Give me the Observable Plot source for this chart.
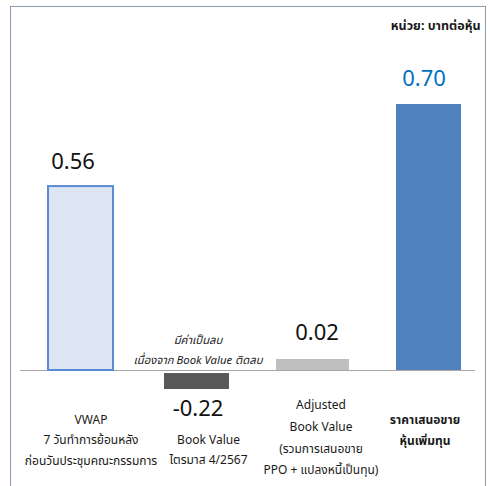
<!DOCTYPE html>
<html>
<head>
<meta charset="utf-8">
<script src="https://cdn.jsdelivr.net/npm/d3@7"></script>
<script src="https://cdn.jsdelivr.net/npm/@observablehq/plot@0.6"></script>
<style>
  html, body { margin: 0; padding: 0; background: #fff; overflow: hidden; }
  #wrap { position: relative; width: 490px; height: 486px; }
  #frame { position: absolute; left: 10px; top: 6px; width: 476px; height: 500px;
           border: 1.5px solid #8d9bb0; box-sizing: border-box; }
  #chart { position: absolute; left: 0; top: 0; }
</style>
</head>
<body>
<div id="wrap"><div id="frame"></div><div id="chart"></div></div>
<script>
// Data
const categories = ["vwap", "book", "adjusted", "offer"];
const values = [0.56, -0.22, 0.02, 0.70];            // printed values (บาทต่อหุ้น)
const drawnHeights = [0.484, -0.05, 0.029, 0.70];    // bar heights as drawn in source (not to scale)
const valueLabels = ["0.56", "-0.22", "0.02", "0.70"];
const categoryLabels = [
  "VWAP\n7 วันทำการย้อนหลัง\nก่อนวันประชุมคณะกรรมการ",
  "Book Value\nไตรมาส 4/2567",
  "Adjusted\nBook Value\n(รวมการเสนอขาย\nPPO + แปลงหนี้เป็นทุน)",
  "ราคาเสนอขาย\nหุ้นเพิ่มทุน"
];
const unitLabel = "หน่วย: บาทต่อหุ้น";
const note = "มีค่าเป็นลบ\nเนื่องจาก Book Value ติดลบ";

const rows = categories.map((c, i) => ({cat: c, value: values[i], h: drawnHeights[i], label: valueLabels[i], text: categoryLabels[i]}));

const barStyles = {
  vwap: {fill: "#dce6f2", stroke: "#5b8bd0", strokeWidth: 2},
  book: {fill: "#595959"},
  adjusted: {fill: "#bfbfbf", insetLeft: -4, insetRight: -4},
  offer: {fill: "#4f81bd"}
};
const valueStyle = {
  vwap: {dx: -8, dy: -18, fill: "#111"},
  book: {dx: 1, dy: 26, fill: "#111"},
  adjusted: {dx: 4, dy: -19, fill: "#111"},
  offer: {dx: -5, dy: -19, fill: "#0070c0"}
};
const catStyle = {
  vwap: {dx: 10, dy: 408.5, lineHeight: 1.71, fontWeight: "normal"},
  book: {dx: 11.5, dy: 429.5, lineHeight: 1.67, fontWeight: "normal"},
  adjusted: {dx: 8, dy: 393.5, lineHeight: 1.8, fontWeight: "normal"},
  offer: {dx: -4, dy: 408.5, lineHeight: 1.75, fontWeight: "bold"}
};

const marks = [Plot.ruleY([0], {stroke: "#a6a6a6", strokeWidth: 1.2})];
for (const c of categories) {
  const d = rows.filter(r => r.cat === c);
  const neg = d[0].h < 0;
  marks.push(Plot.barY(d, {x: "cat", y1: neg ? -0.008 : 0, y2: "h", ...barStyles[c]}));
  const vs = valueStyle[c];
  marks.push(Plot.text(d, {x: "cat", y: "h", text: "label", lineAnchor: "bottom",
    fontSize: 22, dx: vs.dx, dy: vs.dy, fill: vs.fill}));
  const cs = catStyle[c];
  marks.push(Plot.text(d, {x: "cat", text: "text", frameAnchor: "top", lineAnchor: "top",
    fontSize: 12, dx: cs.dx, dy: cs.dy, lineHeight: cs.lineHeight, fontWeight: cs.fontWeight, fill: "#1a1a1a"}));
}
marks.push(Plot.text([note], {x: () => "book", text: d => d, frameAnchor: "top", lineAnchor: "top",
  fontSize: 11.3, fontStyle: "italic", dx: 1, dy: 329, lineHeight: 1.78, fill: "#1a1a1a"}));
marks.push(Plot.text([unitLabel], {text: d => d, frameAnchor: "top-right", textAnchor: "end", lineAnchor: "top",
  fontSize: 12.5, fontWeight: "bold", dx: 5, dy: 21, fill: "#1a1a1a"}));

const chart = Plot.plot({
  width: 490,
  height: 486,
  marginTop: 0, marginBottom: 0, marginLeft: 20, marginRight: 15,
  style: {fontFamily: "'Noto Sans', 'Noto Sans Thai', 'Open Sans', sans-serif", background: "transparent"},
  x: {type: "band", domain: categories, range: [15.5, 493.5], paddingInner: 0.436, paddingOuter: 0.261, axis: null},
  y: {domain: [0, 0.7], range: [370, 104], axis: null},
  marks
});
document.getElementById("chart").appendChild(chart);
</script>
</body>
</html>
